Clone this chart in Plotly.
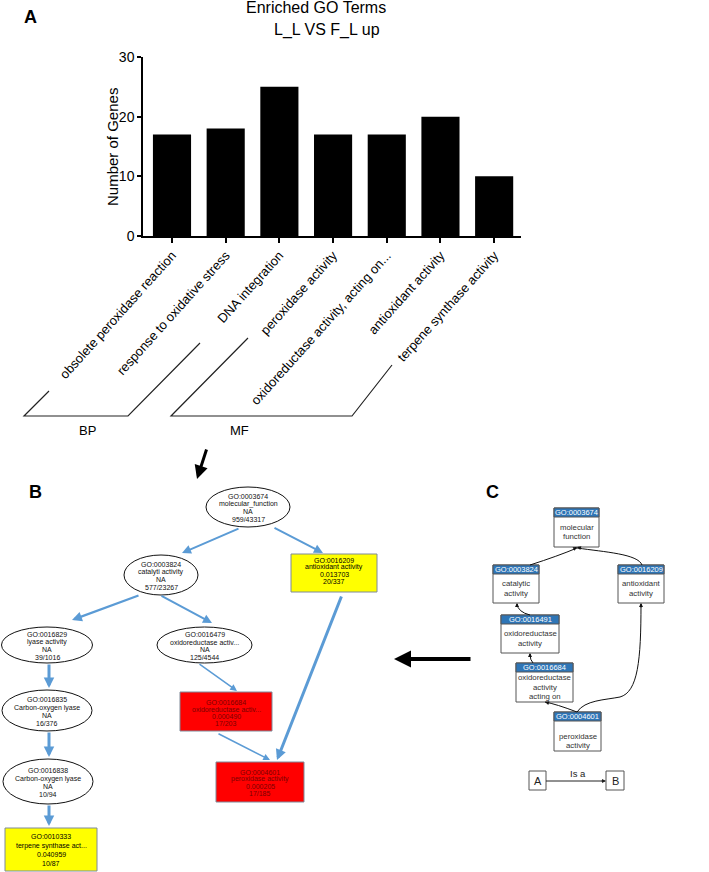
import plotly.graph_objects as go

# ---------------- data (panel A) ----------------
categories = ["obsolete peroxidase reaction", "response to oxidative stress", "DNA integration",
              "peroxidase activity", "oxidoreductase activity, acting on...",
              "antioxidant activity", "terpene synthase activity"]
gene_counts = [17, 18, 25, 17, 17, 20, 10]
y_ticks = [0, 10, 20, 30]
group_labels = ["BP", "MF"]

# ---------------- diagram content (panels B, C) ----------------
b_ellipses = [  # cx, cy, rx, ry, lines
    (248, 507, 42, 20, ["GO:0003674", "molecular_function", "NA", "959/43317"]),
    (161, 575, 37, 20, ["GO:0003824", "catalyti activity", "NA", "577/23267"]),
    (47, 645, 45.5, 18, ["GO:0016829", "lyase activity", "NA", "39/1016"]),
    (204.5, 645, 47.5, 18, ["GO:0016479", "oxidoreductase activ...", "NA", "125/4544"]),
    (47, 710.5, 45, 20.5, ["GO:0016835", "Carbon-oxygen lyase", "NA", "16/376"]),
    (48, 781.5, 45, 22.5, ["GO:0016838", "Carbon-oxygen lyase", "NA", "10/94"]),
]
b_rects = [  # x0, x1, y0, y1, fill, textcolor, text center y, spacing, lines
    (291, 377, 554, 592, "#ffff00", "#000000", 571, 7.2, ["GO:0016209", "antioxidant activity", "0.013703", "20/337"]),
    (5, 97, 828, 871, "#ffff00", "#000000", 850, 9, ["GO:0010333", "terpene synthase act...", "0.040959", "10/87"]),
    (180, 272, 692, 731, "#ff0000", "#7a0000", 713, 7, ["GO:0016684", "oxidoreductase activ...", "0.000490", "17/203"]),
    (216, 304, 762, 802, "#ff0000", "#7a0000", 783, 7.2, ["GO:0004601", "peroxidase activity", "0.000205", "17/185"]),
]
b_edges = [  # tail x, tail y, head x, head y, width
    (240, 528, 182, 553, 2), (273, 527, 323, 553, 2),
    (140, 595, 72, 620, 2.2), (160, 595, 212, 623, 2),
    (49, 663, 49, 688, 3), (49, 731, 49, 757, 3), (49, 804, 49, 826, 3),
    (198, 663, 237, 691, 1.5), (217, 733, 270, 760, 1.5),
    (342, 595, 277, 760, 3),
]
c_boxes = [  # x0, x1, y0, y1, go id, body lines
    (554, 599, 508, 547, "GO:0003674", ["molecular", "function"]),
    (493, 539, 565, 603, "GO:0003824", ["catalytic", "activity"]),
    (618, 664, 565, 603, "GO:0016209", ["antioxidant", "activity"]),
    (501, 559, 615, 653, "GO:0016491", ["oxidoreductase", "activity"]),
    (516, 573, 663, 702, "GO:0016684", ["oxidoreductase", "activity", "acting on"]),
    (554, 601, 712, 751, "GO:0004601", ["", "peroxidase", "activity"]),
]
c_paths = [  # path, arrow tail, arrow head
    ("M 530 565 Q 558 556 577 548", (572, 550), (577, 547)),
    ("M 642 565 C 638 554 605 552 577 548", (582, 548.5), (577, 547)),
    ("M 530 615 Q 518 612 517 604", (517, 608), (517, 603)),
    ("M 533 663 Q 530 660 530 654", (530, 658), (530, 653)),
    ("M 577 712 Q 556 704 545 702", (550, 703.5), (545, 702)),
    ("M 577 712 C 585 700 605 700 620 697 C 638 692 641 660 641 604", (641, 609), (641, 603)),
]

FONT = "Liberation Sans, Arial, sans-serif"
W, H = 709, 872

fig = go.Figure()
fig.add_trace(go.Bar(x=categories, y=gene_counts, marker=dict(color="#000000", line=dict(width=0)),
                     width=0.71, hoverinfo="x+y", showlegend=False))
fig.add_trace(go.Scatter(x=[0], y=[0], xaxis="x2", yaxis="y2", mode="markers",
                         marker=dict(opacity=0), hoverinfo="skip", showlegend=False))

shapes = []
ann = []


def text_lines(cx, cy, lines, size, spacing, color):
    n = len(lines)
    for i, t in enumerate(lines):
        if not t:
            continue
        y = cy + (i - (n - 1) / 2) * spacing
        ann.append(dict(x=cx, y=y, xref="x2", yref="y2", text=t, showarrow=False,
                        font=dict(family=FONT, size=size, color=color),
                        xanchor="center", yanchor="middle"))


def arrow(tx, ty, hx, hy, color, width, head=2, size=1.0):
    ann.append(dict(x=hx, y=hy, ax=tx, ay=ty, xref="x2", yref="y2", axref="x2", ayref="y2",
                    text="", showarrow=True, arrowhead=head, arrowsize=size, arrowwidth=width,
                    arrowcolor=color, standoff=0, startstandoff=0))


# ---- panel A extras ----
ann.append(dict(x=316, y=7, xref="x2", yref="y2", text="Enriched GO Terms", showarrow=False,
                font=dict(family=FONT, size=16, color="#000"), xanchor="center", yanchor="middle"))
ann.append(dict(x=327, y=30, xref="x2", yref="y2", text="L_L VS F_L up", showarrow=False,
                font=dict(family=FONT, size=16, color="#000"), xanchor="center", yanchor="middle"))
ann.append(dict(x=112, y=147, xref="x2", yref="y2", text="Number of Genes", showarrow=False,
                textangle=-90, font=dict(family=FONT, size=15, color="#000"),
                xanchor="center", yanchor="middle"))
for letter, (lx, ly) in zip(["A", "B", "C"], [(30, 17), (35, 492), (492, 492)]):
    ann.append(dict(x=lx, y=ly, xref="x2", yref="y2", text="<b>%s</b>" % letter, showarrow=False,
                    font=dict(family=FONT, size=18, color="#000"), xanchor="center", yanchor="middle"))

# BP / MF brackets
shapes.append(dict(type="path", xref="x2", yref="y2", path="M 49 391 L 24 416 L 128 416 L 200 343",
                   line=dict(color="#222", width=1.2)))
shapes.append(dict(type="path", xref="x2", yref="y2", path="M 248 338 L 171 416 L 352 416 L 392 365",
                   line=dict(color="#222", width=1.2)))
for lab, (gx, gy) in zip(group_labels, [(87, 430), (239, 430)]):
    ann.append(dict(x=gx, y=gy, xref="x2", yref="y2", text=lab, showarrow=False,
                    font=dict(family=FONT, size=13, color="#000"), xanchor="center", yanchor="middle"))

# A -> B arrow
arrow(207, 448, 197, 479, "#000", 3, head=2, size=0.9)
# C -> B arrow
arrow(472, 659, 394, 659, "#000", 4, head=2, size=0.85)

# ---- panel B ----
for cx, cy, rx, ry, lines in b_ellipses:
    shapes.append(dict(type="circle", xref="x2", yref="y2", x0=cx - rx, x1=cx + rx, y0=cy - ry, y1=cy + ry,
                       line=dict(color="#111", width=1), fillcolor="#ffffff", layer="above"))
    text_lines(cx, cy + 1, lines, 7, 7.8, "#111")
for x0, x1, y0, y1, fill, tc, tcy, sp, lines in b_rects:
    shapes.append(dict(type="rect", xref="x2", yref="y2", x0=x0, x1=x1, y0=y0, y1=y1,
                       line=dict(color="#7f8a99", width=1), fillcolor=fill, layer="above"))
    text_lines((x0 + x1) / 2, tcy, lines, 7, sp, tc)
for tx, ty, hx, hy, w in b_edges:
    arrow(tx, ty, hx, hy, "#5b9bd5", w, head=2, size=0.9 if w < 2.5 else 0.7)

# ---- panel C ----
for x0, x1, y0, y1, gid, body in c_boxes:
    shapes.append(dict(type="rect", xref="x2", yref="y2", x0=x0, x1=x1, y0=y0, y1=y1,
                       line=dict(color="#555", width=1), fillcolor="#ffffff", layer="above"))
    shapes.append(dict(type="rect", xref="x2", yref="y2", x0=x0, x1=x1, y0=y0, y1=y0 + 9,
                       line=dict(color="#555", width=1), fillcolor="#2e75b6", layer="above"))
    ann.append(dict(x=(x0 + x1) / 2, y=y0 + 4.7, xref="x2", yref="y2", text=gid, showarrow=False,
                    font=dict(family=FONT, size=7.5, color="#ffffff"), xanchor="center", yanchor="middle"))
    text_lines((x0 + x1) / 2, y0 + 9 + (y1 - y0 - 9) / 2, body, 7.8, 9.5, "#333")
for p, tail, head in c_paths:
    shapes.append(dict(type="path", xref="x2", yref="y2", path=p, line=dict(color="#111", width=1)))
    arrow(tail[0], tail[1], head[0], head[1], "#111", 1, head=2, size=0.8)

# legend A --Is a--> B
for lx0, lx1, lt in [(529, 546, "A"), (606, 624, "B")]:
    shapes.append(dict(type="rect", xref="x2", yref="y2", x0=lx0, x1=lx1, y0=771, y1=790,
                       line=dict(color="#555", width=1), fillcolor="#ffffff"))
    ann.append(dict(x=(lx0 + lx1) / 2, y=781, xref="x2", yref="y2", text=lt, showarrow=False,
                    font=dict(family=FONT, size=11, color="#222"), xanchor="center", yanchor="middle"))
shapes.append(dict(type="line", xref="x2", yref="y2", x0=546, x1=602, y0=781, y1=781,
                   line=dict(color="#222", width=1)))
arrow(600, 781, 606, 781, "#222", 1, head=2, size=0.8)
ann.append(dict(x=578, y=773, xref="x2", yref="y2", text="Is a", showarrow=False,
                font=dict(family=FONT, size=9.5, color="#222"), xanchor="center", yanchor="middle"))

fig.update_layout(
    width=W, height=H, margin=dict(l=0, r=0, t=0, b=0),
    paper_bgcolor="#ffffff", plot_bgcolor="rgba(0,0,0,0)",
    bargap=0.29,
    xaxis=dict(domain=[143 / W, 521 / W], range=[-0.54, 6.5], type="category",
               showline=True, linecolor="#000", linewidth=1.5, ticks="outside", ticklen=5,
               tickwidth=1.5, tickcolor="#000", tickangle=-48, automargin=False,
               tickfont=dict(family=FONT, size=13, color="#000"), showgrid=False, zeroline=False,
               anchor="y", fixedrange=True),
    yaxis=dict(domain=[1 - 236 / H, 1 - 57 / H], range=[0, 30], tickvals=y_ticks,
               showline=True, linecolor="#000", linewidth=1.5, ticks="outside", ticklen=4,
               tickwidth=1.5, tickcolor="#000", automargin=False,
               tickfont=dict(family=FONT, size=14, color="#000"), showgrid=False, zeroline=False,
               anchor="x", fixedrange=True),
    xaxis2=dict(domain=[0, 1], range=[0, W], visible=False, anchor="y2", fixedrange=True),
    yaxis2=dict(domain=[0, 1], range=[H, 0], visible=False, anchor="x2", fixedrange=True),
    shapes=shapes, annotations=ann, showlegend=False,
)

fig.write_html("out.html", config={"displayModeBar": False},
               post_script="document.body.style.margin='0';document.body.style.padding='0';")
